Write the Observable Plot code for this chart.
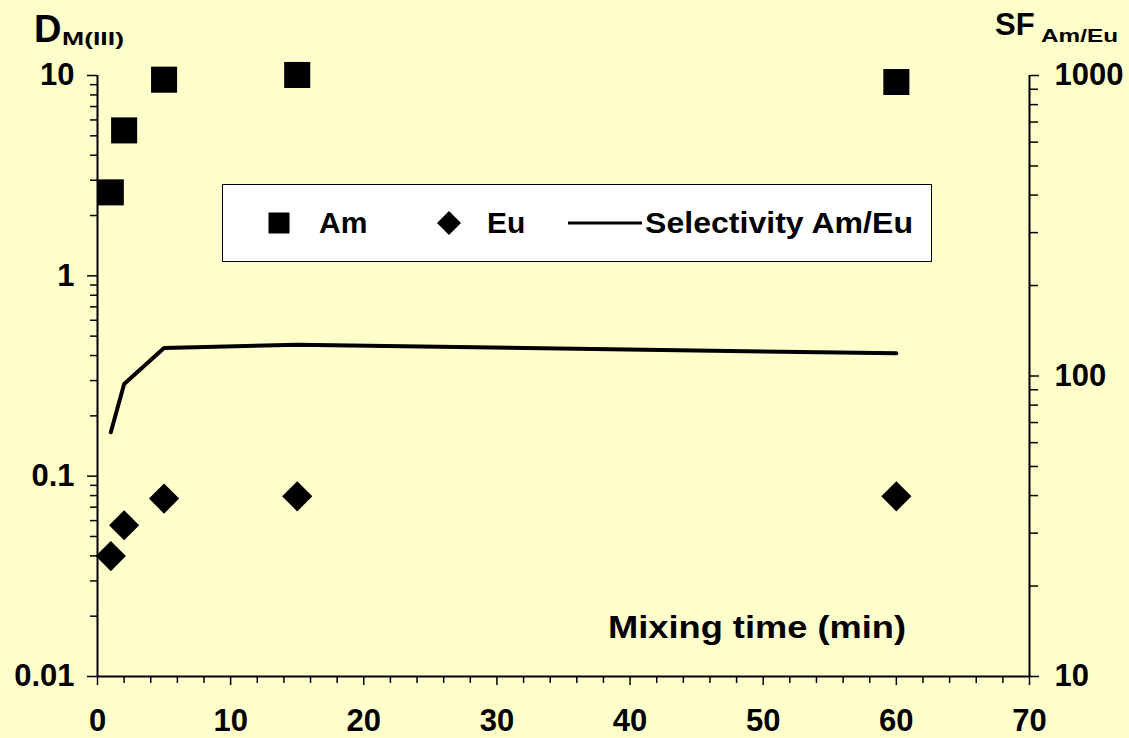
<!DOCTYPE html>
<html>
<head>
<meta charset="utf-8">
<script src="https://cdn.jsdelivr.net/npm/d3@7"></script>
<script src="https://cdn.jsdelivr.net/npm/@observablehq/plot@0.6"></script>
<style>
  html, body { margin: 0; padding: 0; background: #FFFFCC; }
  #chart { width: 1129px; height: 738px; overflow: hidden; }
</style>
</head>
<body>
<div id="chart"></div>
<script>
// Mixing time (min) and measured distribution ratios
const minutes = [1, 2, 5, 15, 60];
const dAm = [2.61, 5.32, 9.53, 10.06, 9.28];
const dEu = [0.0399, 0.0569, 0.0773, 0.0793, 0.0793];
// Separation factor Am/Eu (right axis)
const sfAmEu = [65, 94, 124, 127, 119];

// Axis ticks
const xTicks = [0, 10, 20, 30, 40, 50, 60, 70];
const xMinor = d3.range(2, 70, 2).filter(v => v % 10 !== 0);
const dTicks = [0.01, 0.1, 1, 10];
const sfTicks = [10, 100, 1000];

const font = "'Liberation Sans', Arial, sans-serif";

// The right axis (SF, 10–1000, 2 decades) shares the frame with the left
// axis (D, 0.01–10, 3 decades): map SF values into the D scale.
const sfToD = sf => 0.01 * Math.pow(sf / 10, 1.5);
const dToSf = d => Math.round(10 * Math.pow(d / 0.01, 2 / 3));

const decadeMinor = (lo, hi) => {
  const out = [];
  for (let p = lo; p < hi; p *= 10) for (let k = 2; k <= 9; k++) out.push(+(k * p).toPrecision(3));
  return out;
};
const dMinor = decadeMinor(0.01, 10);
const sfMinor = decadeMinor(10, 1000);

const am = minutes.map((t, i) => ({t, d: dAm[i]}));
const eu = minutes.map((t, i) => ({t, d: dEu[i]}));
const sel = minutes.map((t, i) => ({t, sf: sfAmEu[i]}));

const blank = () => "";

const chart = Plot.plot({
  width: 1129,
  height: 738,
  marginLeft: 97,
  marginRight: 100,
  marginTop: 75,
  marginBottom: 62,
  style: {background: "#FFFFCC", color: "#000", fontFamily: font, fontSize: "31px", fontWeight: "bold"},
  x: {domain: [0, 70], label: null},
  y: {type: "log", domain: [0.01, 10], label: null},
  marks: [
    // axis lines
    Plot.ruleX([0, 70], {stroke: "#000", strokeWidth: 2}),
    Plot.ruleY([0.01], {stroke: "#000", strokeWidth: 2}),
    // bottom axis
    Plot.axisX(xMinor, {anchor: "bottom", tickSize: 7, strokeWidth: 1.5, tickFormat: blank}),
    Plot.axisX(xTicks, {anchor: "bottom", tickSize: 9, tickPadding: 23, strokeWidth: 1.5, tickFormat: d => String(d)}),
    // left axis: D
    Plot.axisY(dMinor, {anchor: "left", tickSize: 7, strokeWidth: 1.5, tickFormat: blank}),
    Plot.axisY(dTicks, {anchor: "left", tickSize: 10, tickPadding: 13, strokeWidth: 1.5, tickFormat: d => String(d)}),
    // right axis: SF
    Plot.axisY(sfMinor.map(sfToD), {anchor: "right", tickSize: 8, strokeWidth: 1.5, tickFormat: blank}),
    Plot.axisY(sfTicks.map(sfToD), {anchor: "right", tickSize: 9, tickPadding: 16, strokeWidth: 1.5, tickFormat: d => String(dToSf(d))}),
    // selectivity line on the SF axis
    Plot.line(sel, {x: "t", y: d => sfToD(d.sf), stroke: "#000", strokeWidth: 4}),
    // Am (squares) and Eu (diamonds)
    Plot.dot(am, {x: "t", y: "d", symbol: "square", r: 14.7, fill: "#000", stroke: "none"}),
    Plot.dot(eu, {x: "t", y: "d", symbol: "diamond2", r: 13.6, fill: "#000", stroke: "none"})
  ]
});

document.getElementById("chart").appendChild(chart);

const svg = d3.select(chart);

// Axis titles and annotations
function label(g, text, x, y, size, length) {
  const t = g.append("text")
    .attr("x", x).attr("y", y)
    .attr("text-anchor", "start")
    .attr("font-family", font).attr("font-weight", "bold")
    .attr("font-size", size).attr("fill", "#000")
    .text(text);
  if (length) t.attr("textLength", length).attr("lengthAdjust", "spacingAndGlyphs");
  return t;
}
const titles = svg.append("g");
label(titles, "D", 34, 42, 38);
label(titles, "M(III)", 62, 45, 19, 62);
label(titles, "SF", 995, 35, 31);
label(titles, "Am/Eu", 1041, 41.5, 19, 77);
label(titles, "Mixing time (min)", 608, 638, 32, 298);

// Legend
const lg = svg.append("g");
lg.append("rect").attr("x", 222.5).attr("y", 184.5).attr("width", 709).attr("height", 77)
  .attr("fill", "#fff").attr("stroke", "#000").attr("stroke-width", 1);
lg.append("rect").attr("x", 268.5).attr("y", 212.5).attr("width", 21).attr("height", 21).attr("fill", "#000");
label(lg, "Am", 319, 233, 30);
lg.append("path").attr("d", "M449,211L461,223L449,235L437,223Z").attr("fill", "#000");
label(lg, "Eu", 487, 233, 30);
lg.append("line").attr("x1", 568).attr("x2", 642).attr("y1", 223).attr("y2", 223)
  .attr("stroke", "#000").attr("stroke-width", 3);
label(lg, "Selectivity Am/Eu", 645, 233, 30, 268);
</script>
</body>
</html>
